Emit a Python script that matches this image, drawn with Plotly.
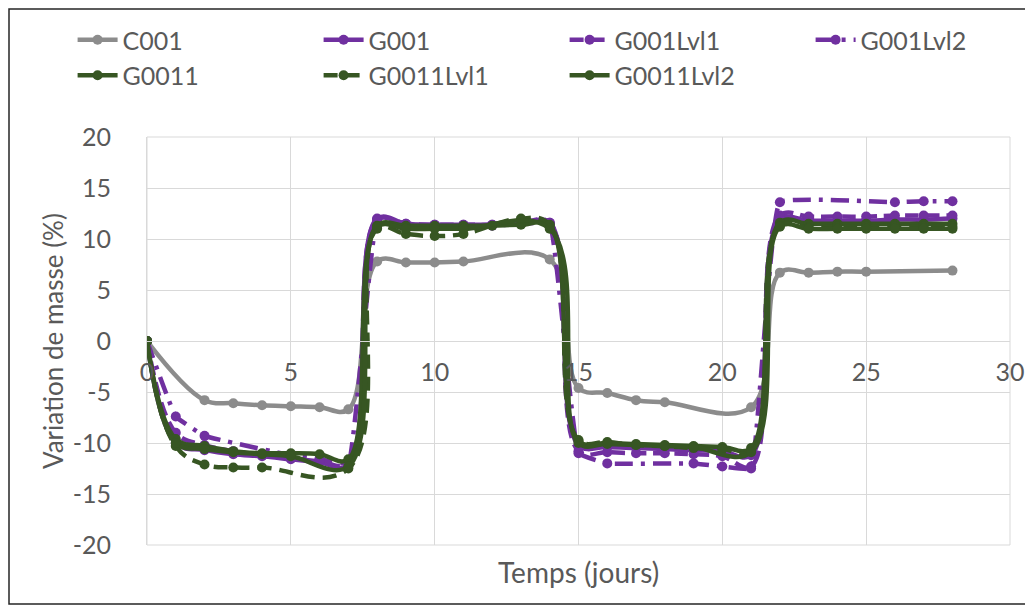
import plotly.graph_objects as go

# ---------------- data ----------------
c001_days = [0, 2, 3, 4, 5, 6, 7, 8, 9, 10, 11, 14, 15, 16, 17, 18, 21, 22, 23, 24, 25, 28]
c001_vals = [0, -5.8, -6.1, -6.3, -6.4, -6.5, -6.7, 7.8, 7.7, 7.7, 7.8, 8.0,
             -4.6, -5.1, -5.8, -6.0, -6.5, 6.7, 6.7, 6.8, 6.8, 6.9]

g001_days = list(range(0, 29))
g001_vals = [0, -10.0, -10.7, -11.1, -11.3, -11.6, -11.9, -12.2,
             12.0, 11.5, 11.4, 11.4, 11.4, 11.5, 11.6,
             -10.2, -10.4, -10.5, -10.6, -10.7, -10.8, -11.2,
             11.9, 11.8, 11.8, 11.8, 11.9, 11.9, 12.0]

g001lvl1_days = list(range(0, 29))
g001lvl1_vals = [0, -9.0, -10.2, -10.8, -11.2, -11.5, -11.8, -12.0,
                 11.9, 11.5, 11.4, 11.4, 11.4, 11.6, 11.6,
                 -10.8, -10.9, -11.0, -11.0, -11.1, -11.3, -12.3,
                 12.3, 12.2, 12.2, 12.2, 12.3, 12.3, 12.3]

g001lvl2_days = [0, 1, 2, 5, 6, 7, 8, 9, 12, 13, 14, 15, 16, 19, 20, 21, 22, 26, 27, 28]
g001lvl2_vals = [0, -7.4, -9.3, -11.2, -11.6, -12.0, 11.8, 11.4, 11.3, 11.5, 11.5,
                 -11.0, -12.0, -12.0, -12.3, -12.5, 13.6, 13.6, 13.7, 13.7]

g0011_days = list(range(0, 29))
g0011_vals = [0, -9.6, -10.3, -10.8, -11.0, -11.0, -11.1, -11.6,
              11.3, 11.3, 11.3, 11.3, 11.3, 11.4, 11.3,
              -9.8, -10.0, -10.1, -10.2, -10.3, -10.4, -10.5,
              11.6, 11.5, 11.5, 11.5, 11.5, 11.5, 11.5]

g0011lvl1_days = [0, 1, 2, 3, 4, 7, 8, 9, 10, 11, 13, 14,
                  15, 16, 17, 18, 19, 20, 21, 22, 23, 24, 25, 26, 27, 28]
g0011lvl1_vals = [0, -10.3, -12.1, -12.4, -12.4, -12.5, 11.0, 10.5, 10.3, 10.5, 12.0, 11.4,
                  -9.7, -9.9, -10.2, -10.3, -10.5, -10.6, -10.8,
                  11.3, 11.1, 11.2, 11.2, 11.2, 11.2, 11.2]

g0011lvl2_days = [0, 1, 2, 3, 4, 5, 7, 8, 9, 10, 11, 14,
                  15, 16, 17, 18, 19, 21, 22, 23, 24, 25, 26, 27, 28]
g0011lvl2_vals = [0, -10.0, -10.6, -10.9, -11.1, -11.3, -12.3, 11.2, 11.0, 11.0, 11.0, 11.0,
                  -10.0, -10.1, -10.2, -10.3, -10.4, -10.9,
                  11.2, 11.0, 11.0, 11.0, 11.0, 11.0, 11.0]

x_ticks = [0, 5, 10, 15, 20, 25, 30]
y_ticks = [-20, -15, -10, -5, 0, 5, 10, 15, 20]

# ---------------- styling ----------------
GREY = "#8c8c8c"
PURPLE = "#7030a0"
GREEN = "#375623"
TXT = "#595959"
GRID = "#d9d9d9"
FONT = "Lato"

# page body has an 8px margin: layout in figure coordinates
L, R, T, B = 139, 31, 129, 71
PW = 1033 - L - R
PH = 608 - T - B


def px(xf):
    return (xf - L) / PW


def py(yf):
    return (608 - B - yf) / PH


series = [
    ("C001", c001_days, c001_vals, GREY, "solid", 1.1),
    ("G001", g001_days, g001_vals, PURPLE, "solid", 1.1),
    ("G001Lvl1", g001lvl1_days, g001lvl1_vals, PURPLE, "14px,7px", 1.1),
    ("G001Lvl2", g001lvl2_days, g001lvl2_vals, PURPLE, "18px,8px,4px,8px", 0.25),
    ("G0011", g0011_days, g0011_vals, GREEN, "solid", 1.1),
    ("G0011Lvl1", g0011lvl1_days, g0011lvl1_vals, GREEN, "14px,8px", 1.2),
    ("G0011Lvl2", g0011lvl2_days, g0011lvl2_vals, GREEN, "solid", 1.1),
]

fig = go.Figure()
for name, xs, ys, col, dash, sm in series:
    fig.add_trace(go.Scatter(
        x=xs, y=ys, name=name, mode="lines+markers",
        line=dict(color=col, width=4.5, dash=dash, shape="spline", smoothing=sm),
        marker=dict(color=col, size=10),
    ))

fig.update_layout(
    width=1033, height=608,
    margin=dict(l=L, r=R, t=T, b=B, autoexpand=False),
    paper_bgcolor="white", plot_bgcolor="white",
    font=dict(family=FONT, color=TXT, size=24),
    showlegend=True,
    legend=dict(
        orientation="h", x=px(64.6), y=py(9), xanchor="left", yanchor="top",
        entrywidth=191, entrywidthmode="pixels",
        font=dict(family=FONT, size=25, color=TXT),
        itemwidth=40, bgcolor="rgba(0,0,0,0)",
    ),
    xaxis=dict(
        range=[0, 30], tickvals=x_ticks, ticktext=[str(v) for v in x_ticks],
        showgrid=True, gridcolor=GRID, gridwidth=1,
        zeroline=False, showline=True, linecolor=GRID, linewidth=1,
        anchor="free", position=0.5, ticks="", automargin=False,
        ticklabelstandoff=9,
        tickfont=dict(family=FONT, size=25, color=TXT),
    ),
    yaxis=dict(
        range=[-20, 20], tickvals=y_ticks, ticktext=[str(v) for v in y_ticks],
        showgrid=True, gridcolor=GRID, gridwidth=1,
        zeroline=False, showline=True, linecolor=GRID, linewidth=1,
        ticks="", ticklabelstandoff=30, automargin=False,
        tickfont=dict(family=FONT, size=25, color=TXT),
    ),
    shapes=[
        dict(type="rect", xref="x domain", yref="y domain", x0=0, x1=1, y0=0, y1=1,
             line=dict(color=GRID, width=1), layer="below"),
        dict(type="rect", xref="paper", yref="paper",
             x0=px(1), x1=px(1021), y0=py(596), y1=py(1),
             line=dict(color="#262626", width=1.5), layer="above"),
    ],
    annotations=[
        dict(text="Variation de masse (%)", xref="paper", yref="paper",
             x=px(45), y=0.5, xanchor="center", yanchor="middle",
             textangle=-90, showarrow=False,
             font=dict(family=FONT, size=26, color=TXT)),
        dict(text="Temps (jours)", xref="paper", yref="paper",
             x=0.5, y=py(564), xanchor="center", yanchor="middle",
             showarrow=False, font=dict(family=FONT, size=28, color=TXT)),
    ],
)

fig.write_html("out.html")
